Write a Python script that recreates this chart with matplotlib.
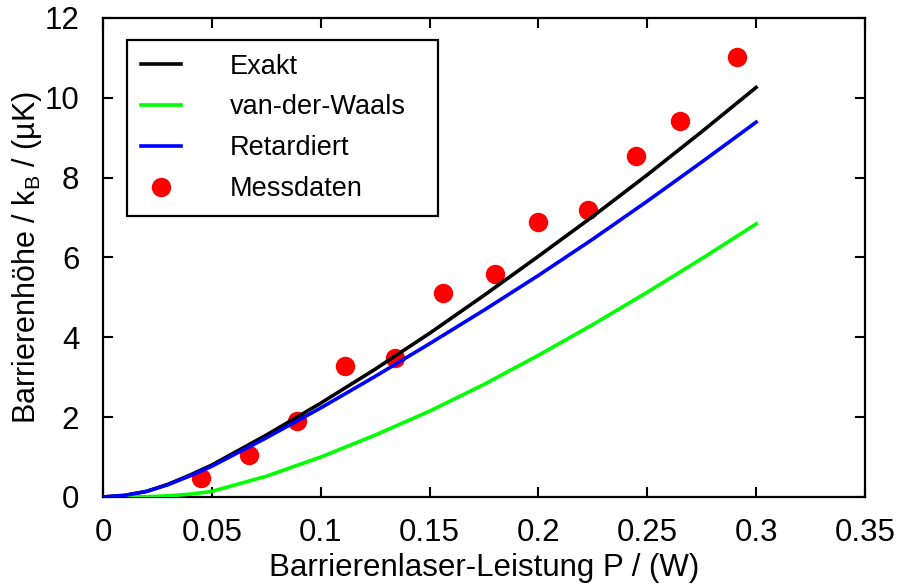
import matplotlib
matplotlib.use('Agg')
import matplotlib.pyplot as plt

plt.rcParams['font.family'] = ['Liberation Sans', 'DejaVu Sans']
plt.rcParams['mathtext.fontset'] = 'custom'
plt.rcParams['mathtext.rm'] = 'Liberation Sans'
plt.rcParams['mathtext.it'] = 'Liberation Sans:italic'

# theory curves
p_theo = [0, 0.01, 0.02, 0.03, 0.04, 0.05, 0.075, 0.1, 0.125, 0.15,
          0.175, 0.2, 0.225, 0.25, 0.275, 0.3]
exakt = [0, 0.04, 0.14, 0.32, 0.55, 0.80, 1.55, 2.35, 3.2, 4.1,
         5.05, 6.03, 7.03, 8.07, 9.15, 10.26]
vdw = [0, 0.0, 0.005, 0.03, 0.07, 0.14, 0.52, 1.0, 1.55, 2.15,
       2.82, 3.55, 4.32, 5.13, 5.97, 6.84]
retard = [0, 0.04, 0.14, 0.31, 0.53, 0.77, 1.48, 2.23, 3.02, 3.84,
          4.68, 5.55, 6.46, 7.41, 8.39, 9.39]

# measured points
p_mess = [0.045, 0.067, 0.089, 0.111, 0.134, 0.156, 0.18, 0.2, 0.223, 0.245, 0.265, 0.291]
mess = [0.48, 1.05, 1.9, 3.28, 3.48, 5.11, 5.59, 6.89, 7.19, 8.55, 9.42, 11.03]

fig = plt.figure(figsize=(8.97, 5.88), dpi=100)
ax = fig.add_axes([0.1148, 0.1548, 0.8495, 0.8146])

dots, = ax.plot(p_mess, mess, 'o', color='#ff0000', markersize=14, markeredgewidth=0,
                zorder=2, label='Messdaten')
l1, = ax.plot(p_theo, exakt, color='black', lw=2.6, zorder=3, label='Exakt')
l2, = ax.plot(p_theo, vdw, color='#00ff00', lw=2.6, zorder=3, label='van-der-Waals')
l3, = ax.plot(p_theo, retard, color='#0000ff', lw=2.6, zorder=3, label='Retardiert')

ax.set_xlim(0, 0.35)
ax.set_ylim(0, 12)
ax.set_xticks([0, 0.05, 0.1, 0.15, 0.2, 0.25, 0.3, 0.35])
ax.set_xticklabels(['0', '0.05', '0.1', '0.15', '0.2', '0.25', '0.3', '0.35'])
ax.set_yticks([0, 2, 4, 6, 8, 10, 12])
ax.tick_params(direction='in', length=7, width=1.5, labelsize=22.5,
               top=True, right=True)
ax.tick_params(axis='x', pad=15)
ax.tick_params(axis='y', pad=17)
for s in ax.spines.values():
    s.set_linewidth(1.6)

ax.set_xlabel('Barrierenlaser-Leistung P / (W)', fontsize=22.5, labelpad=4)
ax.set_ylabel(r'Barrierenhöhe / k$_\mathrm{B}$ / (µK)', fontsize=22, labelpad=0)

leg = ax.legend(handles=[l1, l2, l3, dots], loc='upper left',
                bbox_to_anchor=(0.0315, 0.5, 0.408, 0.454), mode='expand',
                fontsize=19.5, fancybox=False,
                edgecolor='black', framealpha=1, handlelength=1.5,
                handletextpad=1.8, labelspacing=0.55, borderpad=0.5,
                borderaxespad=0, numpoints=1)
leg.get_frame().set_linewidth(1.6)

fig.savefig('out.png', dpi=100)
